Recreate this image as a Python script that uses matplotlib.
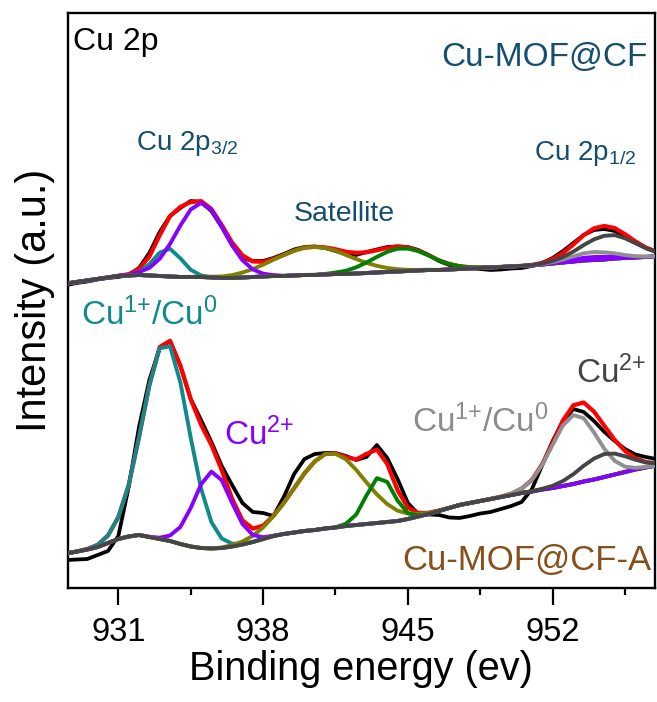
import numpy as np
import matplotlib.pyplot as plt

plt.rcParams['font.family'] = ['Liberation Sans', 'DejaVu Sans']
plt.rcParams['mathtext.default'] = 'regular'

# binding energy grid (eV)
energy = [928.5, 929.0, 929.5, 930.0, 930.5, 931.0, 931.5, 932.0, 932.5, 933.0,
          933.5, 934.0, 934.5, 935.0, 935.5, 936.0, 936.5, 937.0, 937.5, 938.0,
          938.5, 939.0, 939.5, 940.0, 940.5, 941.0, 941.5, 942.0, 942.5, 943.0,
          943.5, 944.0, 944.5, 945.0, 945.5, 946.0, 946.5, 947.0, 947.5, 948.0,
          948.5, 949.0, 949.5, 950.0, 950.5, 951.0, 951.5, 952.0, 952.5, 953.0,
          953.5, 954.0, 954.5, 955.0, 955.5, 956.0, 956.5, 957.0]

# Cu-MOF@CF (upper spectrum, offset)
raw_cf = [303, 305, 306.5, 308.5, 310, 311, 313, 320, 335, 356,
          372, 380, 387, 386, 377, 361, 343, 330, 327, 327,
          330, 334, 338.5, 341, 341.5, 340, 337, 334, 333, 336,
          338.5, 341, 341.5, 341, 338, 333, 327, 323, 320.5, 320,
          319, 318, 318.5, 319.5, 320, 322, 325, 330, 337, 345,
          353, 358, 359, 357, 352, 346, 340, 336]
bg_cf = [304.5, 306, 307.5, 309, 310.5, 312, 312.5, 313, 312.5, 312,
         311.5, 311, 311, 311, 310.5, 310, 310, 310.5, 311, 311.5,
         312, 312, 312.5, 313, 313, 313.5, 314, 314, 314.5, 315,
         315.5, 316, 316.5, 317, 317.5, 318, 318, 318.5, 319, 319.5,
         320, 320.5, 321, 321.5, 322, 322.5, 323.5, 324.5, 325.5, 326.5,
         327.5, 328, 328.5, 329.5, 330, 330.5, 331, 331.5]
# fitted peaks: teal, purple, olive, green, purple(2p1/2), gray, dark gray
centre_cf = [933.4, 935.0, 940.4, 944.7, 954.0, 954.0, 954.7]
height_cf = [28, 74, 28, 23, 3, 8, 24]
fwhm_cf = [1.57, 2.76, 4.3, 3.2, 2.5, 2.5, 3.0]
color_cf = ['#108a8a', '#8800ff', '#808000', '#008000', '#8800ff', '#909090', '#454545']

# Cu-MOF@CF-A (lower spectrum)
raw_a = [28, 28.5, 29, 33, 37, 52, 101, 161, 208, 240,
         247, 222, 189, 168, 146, 122, 103, 85, 76, 75,
         72, 91, 114, 129, 134, 135, 135, 132, 128, 131,
         143, 130, 109, 85, 74, 73.5, 73, 70.5, 70, 72,
         74.5, 76, 79, 82, 86, 99, 123, 147, 167, 179,
         176, 167, 156, 147, 139, 133.5, 131, 129]
bg_a = [34.5, 36.5, 38.5, 41, 45, 49, 51.5, 53, 51, 49,
        47, 44, 41.5, 40, 39.5, 40, 41.5, 43.5, 46, 49,
        52, 54, 55.5, 57, 58, 59.5, 60.5, 62, 63, 64,
        65, 66, 67, 69, 71.5, 74, 77, 80, 83, 85,
        87, 89, 91, 93, 95, 96.5, 98.5, 100, 102, 104,
        106.5, 108.5, 111, 113.5, 116, 118.5, 120.5, 122.5]
# fitted peaks: teal, purple, olive, green, gray, dark gray
centre_a = [933.3, 935.55, 941.2, 943.65, 953.05, 954.5]
height_a = [198, 77, 75, 46, 69, 23]
fwhm_a = [2.58, 2.1, 3.9, 1.57, 2.55, 2.7]
color_a = ['#108a8a', '#8800ff', '#808000', '#008000', '#909090', '#454545']

# drawing order of the fitted curves (purple sits above olive/green, dark gray on top)
layer = {'#108a8a': 4, '#808000': 5, '#008000': 6, '#8800ff': 7, '#909090': 8, '#454545': 9}


def peak(x, c, h, w):
    return h * np.exp(-4 * np.log(2) * (x - c) ** 2 / w ** 2)


def draw_spectrum(ax, raw, bg, centres, heights, widths, colors):
    x = np.array(energy)
    bg = np.array(bg)
    parts = [peak(x, c, h, w) for c, h, w in zip(centres, heights, widths)]
    ax.plot(x, raw, color='black', lw=2.7, zorder=2, solid_joinstyle='round')
    ax.plot(x, bg + np.sum(parts, axis=0), color='#ff0000', lw=3.0, zorder=3,
            solid_joinstyle='round')
    for i, p in enumerate(parts):
        ax.plot(x, bg + p, color=colors[i], lw=2.8, zorder=layer[colors[i]],
                solid_joinstyle='round')


fig = plt.figure(figsize=(6.57, 7.02), dpi=100)
ax = fig.add_axes([0.103, 0.1624, 0.894, 0.8184])

draw_spectrum(ax, raw_cf, bg_cf, centre_cf, height_cf, fwhm_cf, color_cf)
draw_spectrum(ax, raw_a, bg_a, centre_a, height_a, fwhm_a, color_a)

ax.set_xlim(928.55, 956.95)
ax.set_ylim(0, 574.5)
ax.set_xticks([931, 938, 945, 952])
ax.set_xticks([934.5, 941.5, 948.5, 955.5], minor=True)
ax.set_yticks([])
ax.tick_params(axis='x', which='major', direction='out', length=12, width=1.6,
               labelsize=23.5, pad=9)
ax.tick_params(axis='x', which='minor', direction='out', length=5, width=1.6)
for s in ax.spines.values():
    s.set_linewidth(1.7)

ax.set_xlabel('Binding energy (ev)', fontsize=28.5, labelpad=1)
ax.set_ylabel('Intensity (a.u.)', fontsize=30, labelpad=9)

blue = '#164e6e'
ax.text(928.8, 538, 'Cu 2p', fontsize=23, color='black', va='baseline')
ax.text(956.6, 522, 'Cu-MOF@CF', fontsize=24, color=blue, ha='right', va='baseline')
ax.text(931.85, 438, r'Cu 2p$_{3/2}$', fontsize=20, color=blue, va='baseline')
ax.text(951.08, 428, r'Cu 2p$_{1/2}$', fontsize=20, color=blue, va='baseline')
ax.text(939.48, 367, 'Satellite', fontsize=20.5, color=blue, va='baseline')

ax.text(929.19, 263, r'Cu$^{1{+}}$/Cu$^{0}$', fontsize=24, color='#108a8a', va='baseline')
ax.text(936.1, 143, r'Cu$^{2{+}}$', fontsize=24, color='#8800ff', va='baseline')
ax.text(945.19, 156, r'Cu$^{1{+}}$/Cu$^{0}$', fontsize=24, color='#8c8c8c', va='baseline')
ax.text(953.11, 205, r'Cu$^{2{+}}$', fontsize=24, color='#454545', va='baseline')
ax.text(956.78, 18, 'Cu-MOF@CF-A', fontsize=25, color='#86501b', ha='right', va='baseline')

fig.savefig('out.png', dpi=100)
